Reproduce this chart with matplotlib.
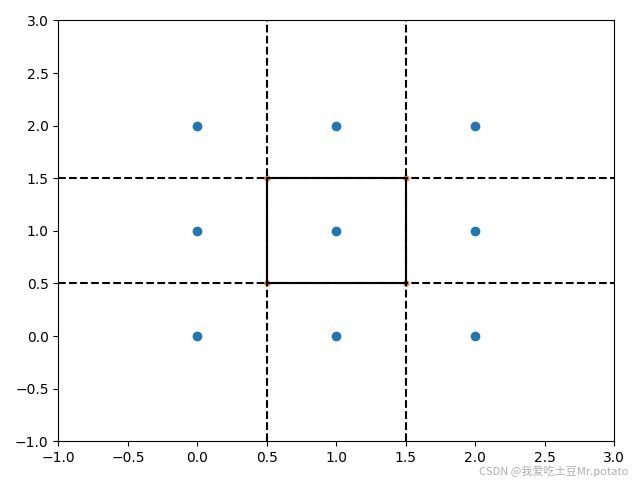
import matplotlib.pyplot as plt
import numpy as np

# grille de points 3x3
xs = [0, 1, 2, 0, 1, 2, 0, 1, 2]
ys = [0, 0, 0, 1, 1, 1, 2, 2, 2]

# coins du carré
coin_x = [0.5, 1.5, 1.5, 0.5]
coin_y = [0.5, 0.5, 1.5, 1.5]

# lignes pointillées
v_lines = [0.5, 1.5]
h_lines = [0.5, 1.5]

fig = plt.figure(figsize=(6.4, 4.8), dpi=100)
plt.scatter(xs, ys)
plt.scatter(coin_x, coin_y, marker='o', s=12)
for v in v_lines:
    plt.axvline(v, color='k', linestyle='--')
for h in h_lines:
    plt.axhline(h, color='k', linestyle='--')
plt.plot(coin_x + coin_x[:1], coin_y + coin_y[:1], 'k-')
plt.xlim(-1, 3)
plt.ylim(-1, 3)
plt.tight_layout()

# filigrane
fig.text(0.982, 0.006, 'CSDN @我爱吃土豆Mr.potato', ha='right', va='bottom',
         fontsize=8, color='#999999', alpha=0.8,
         family=['Noto Sans CJK SC', 'DejaVu Sans'])
plt.savefig('out.png')
